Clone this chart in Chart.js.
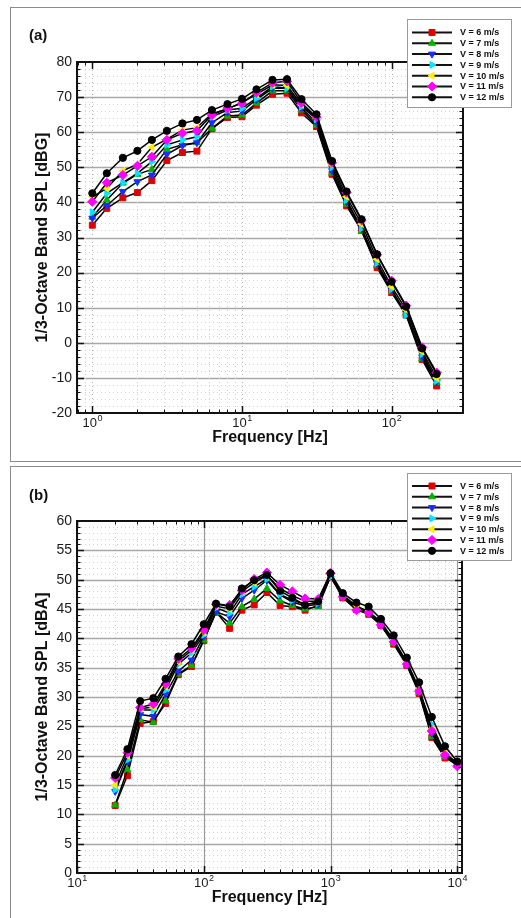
<!DOCTYPE html>
<html>
<head>
<title>1/3-Octave Band SPL</title>
<script src="https://cdn.jsdelivr.net/npm/chart.js"></script>
<style>
  body { margin: 0; background: #fff; width: 521px; height: 918px; overflow: hidden; position: relative;
         font-family: "Liberation Sans", Arial, sans-serif; }
  .panel { position: absolute; left: 10px; width: 600px; border: 1px solid #8a8a8a; }
  .tag { position: absolute; left: 29px; font-weight: bold; font-size: 15px; color: #111; line-height: 17px; }
  canvas { position: absolute; left: 0; }
</style>
</head>
<body>
<div class="panel" style="top:7px;height:453px"></div>
<div class="panel" style="top:466px;height:500px"></div>
<canvas id="chartA" width="521" height="462" style="top:0"></canvas>
<canvas id="chartB" width="521" height="456" style="top:462px"></canvas>
<div class="tag" style="top:26px">(a)</div>
<div class="tag" style="top:486px">(b)</div>

<script>
// ---- data ----
const speedLabels = ['V = 6 m/s', 'V = 7 m/s', 'V = 8 m/s', 'V = 9 m/s', 'V = 10 m/s', 'V = 11 m/s', 'V = 12 m/s'];

// (a) G-weighted, 1 Hz - 200 Hz
const freqA = [1, 1.25, 1.6, 2, 2.5, 3.15, 4, 5, 6.3, 8, 10, 12.5, 16, 20, 25, 31.5, 40, 50, 63, 80, 100, 125, 160, 200];
const splA_v6  = [33.5, 38.3, 41.3, 42.8, 46.2, 51.9, 54.2, 54.6, 61.0, 64.2, 64.4, 67.7, 70.8, 71.1, 65.5, 61.6, 48.0, 39.0, 32.0, 21.4, 14.3, 7.9, -4.8, -12.3];
const splA_v7  = [35.8, 40.7, 45.5, 48.0, 49.4, 55.1, 56.4, 57.0, 61.1, 64.6, 64.9, 68.3, 71.8, 71.8, 66.3, 62.0, 48.3, 39.5, 31.8, 22.0, 14.6, 8.5, -4.5, -11.3];
const splA_v8  = [35.5, 39.1, 43.1, 45.9, 47.8, 53.7, 56.2, 57.0, 62.7, 65.6, 66.0, 69.3, 72.5, 72.5, 66.8, 62.8, 49.0, 40.2, 32.5, 22.5, 15.0, 8.5, -4.0, -11.0];
const splA_v9  = [37.2, 42.6, 45.6, 48.3, 51.6, 56.4, 57.8, 58.7, 64.4, 66.3, 66.8, 69.7, 73.0, 72.5, 67.3, 63.7, 50.0, 40.7, 32.6, 22.8, 15.3, 7.9, -3.2, -10.8];
const splA_v10 = [41.6, 44.0, 49.0, 50.9, 55.7, 58.0, 60.6, 61.3, 65.3, 66.6, 68.5, 70.8, 73.5, 73.3, 67.8, 64.0, 50.7, 41.6, 33.8, 23.8, 16.0, 9.4, -2.5, -10.0];
const splA_v11 = [40.2, 45.6, 47.8, 50.4, 53.0, 57.8, 59.7, 60.4, 64.9, 66.8, 68.2, 71.3, 74.1, 74.5, 68.4, 64.3, 51.3, 42.8, 34.9, 25.1, 17.7, 10.6, -1.3, -8.5];
const splA_v12 = [42.6, 48.3, 52.7, 54.7, 57.8, 60.4, 62.5, 63.5, 66.3, 68.0, 69.5, 72.2, 74.9, 75.1, 69.4, 65.1, 51.8, 43.1, 35.2, 25.2, 17.4, 10.3, -1.6, -8.9];

// (b) A-weighted, 20 Hz - 10 kHz
const freqB = [20, 25, 31.5, 40, 50, 63, 80, 100, 125, 160, 200, 250, 315, 400, 500, 630, 800, 1000, 1250, 1600, 2000, 2500, 3150, 4000, 5000, 6300, 8000, 10000];
const splB_v6  = [11.5, 16.6, 25.5, 25.8, 28.9, 33.8, 35.2, 39.6, 44.5, 41.7, 44.8, 45.7, 47.8, 45.6, 45.4, 44.8, 45.6, 50.5, 46.9, 44.9, 44.1, 42.2, 39.0, 35.4, 30.6, 23.1, 19.6, 18.5];
const splB_v7  = [11.6, 17.6, 26.1, 25.7, 29.3, 33.9, 35.4, 39.7, 44.4, 42.6, 45.4, 46.7, 48.5, 46.4, 45.6, 45.0, 45.4, 50.6, 47.0, 45.0, 44.2, 42.3, 39.2, 35.5, 30.8, 23.3, 19.8, 18.6];
const splB_v8  = [13.9, 19.0, 27.0, 26.7, 30.5, 34.4, 36.3, 40.3, 44.5, 43.7, 46.8, 48.2, 49.9, 47.4, 46.2, 45.5, 45.8, 50.8, 47.2, 45.2, 44.5, 42.5, 39.4, 35.7, 31.0, 23.8, 20.0, 18.7];
const splB_v9  = [14.2, 19.3, 27.8, 27.8, 31.2, 35.6, 37.5, 40.6, 45.2, 44.3, 47.5, 48.8, 50.1, 47.5, 46.5, 45.8, 46.0, 50.5, 47.3, 45.3, 44.5, 42.6, 39.5, 35.8, 31.2, 25.3, 20.3, 18.8];
const splB_v10 = [15.0, 20.0, 28.0, 28.3, 31.8, 36.0, 38.0, 41.0, 45.5, 45.0, 48.0, 49.5, 50.7, 48.5, 47.3, 46.3, 46.3, 50.9, 47.4, 45.5, 44.6, 42.8, 39.7, 36.0, 31.5, 24.5, 20.5, 18.6];
const splB_v11 = [16.2, 20.5, 28.2, 28.8, 32.2, 36.5, 38.3, 41.4, 45.8, 45.7, 48.2, 50.1, 51.2, 49.1, 48.0, 46.8, 46.7, 51.1, 47.1, 44.8, 44.3, 42.3, 39.4, 35.6, 31.0, 24.2, 20.1, 18.2];
const splB_v12 = [16.7, 21.1, 29.3, 29.8, 33.1, 36.9, 39.0, 42.4, 45.9, 45.4, 48.5, 49.9, 50.8, 48.1, 46.9, 45.7, 46.3, 51.1, 47.7, 46.1, 45.4, 43.3, 40.5, 36.7, 32.5, 26.6, 21.6, 19.0];

// ---- marker styles, one per wind speed ----
const markerColors = ['#e00000', '#00b400', '#1a2cff', '#00e5ff', '#ffee00', '#ff00ff', '#000000'];
const markerShapes = ['rect', 'triangle', 'triangle', 'triangle', 'triangle', 'rectRot', 'circle'];
const markerTurns  = [0, 0, 180, 90, 270, 0, 0];
const markerSizes  = [4.2, 4, 4, 4, 4, 4.6, 3.6];

const FONT = '"Liberation Sans", Arial, Helvetica, sans-serif';

function makeDatasets(freqs, series) {
  return series.map((vals, i) => ({
    label: speedLabels[i],
    data: freqs.map((f, j) => ({ x: f, y: vals[j] })),
    borderColor: '#000',
    borderWidth: 1.5,
    pointStyle: markerShapes[i],
    pointRotation: markerTurns[i],
    pointRadius: markerSizes[i],
    pointBackgroundColor: markerColors[i],
    pointBorderColor: markerColors[i],
    pointBorderWidth: 1,
    tension: 0,
    order: series.length - i   // 12 m/s ends up on top
  }));
}

// 1,2,...,9 x 10^d inside [min,max]
function logSteps(min, max) {
  const out = [];
  for (let d = Math.floor(Math.log10(min)); d <= Math.ceil(Math.log10(max)); d++) {
    for (let k = 1; k <= 9; k++) {
      const v = k * Math.pow(10, d);
      if (v >= min * 0.999 && v <= max * 1.001) out.push({ v, d, major: k === 1 });
    }
  }
  return out;
}

function seg(ctx, x1, y1, x2, y2) {
  ctx.beginPath(); ctx.moveTo(x1, y1); ctx.lineTo(x2, y2); ctx.stroke();
}

// grid, frame, tick marks, decade labels and the boxed legend (Tecplot look)
const sheet = {
  id: 'sheet',
  beforeDatasetsDraw(chart, args, o) {
    const { ctx, chartArea: a, scales: { x, y } } = chart;
    ctx.save();
    ctx.lineWidth = 1;
    const n = Math.round((y.max - y.min) / o.yMinor);
    for (let k = 1; k < n; k++) {
      const v = y.min + k * o.yMinor;
      const py = Math.round(y.getPixelForValue(v)) + 0.5;
      if (Math.abs(v / o.yMajor - Math.round(v / o.yMajor)) < 1e-6) {
        ctx.setLineDash([]); ctx.strokeStyle = '#a8a8a8'; ctx.lineWidth = 1.6;
      } else {
        ctx.setLineDash([1, 3]); ctx.strokeStyle = '#d2d2d2'; ctx.lineWidth = 1;
      }
      seg(ctx, a.left, py, a.right, py);
    }
    logSteps(x.min, x.max).forEach(s => {
      const px = Math.round(x.getPixelForValue(s.v)) + 0.5;
      if (s.major && o.solidDecades) {
        ctx.setLineDash([]); ctx.strokeStyle = '#9a9a9a'; ctx.lineWidth = 1.2;
      } else {
        ctx.setLineDash([1, 3]); ctx.strokeStyle = s.major ? '#b0b0b0' : '#d0d0d0'; ctx.lineWidth = 1;
      }
      seg(ctx, px, a.top, px, a.bottom);
    });
    ctx.restore();
  },
  afterDatasetsDraw(chart, args, o) {
    const { ctx, chartArea: a, scales: { x, y } } = chart;
    ctx.save();
    ctx.strokeStyle = '#111';
    // inward tick marks on all four sides
    const n = Math.round((y.max - y.min) / o.yMinor);
    for (let k = 1; k < n; k++) {
      const v = y.min + k * o.yMinor;
      const py = Math.round(y.getPixelForValue(v)) + 0.5;
      const major = Math.abs(v / o.yMajor - Math.round(v / o.yMajor)) < 1e-6;
      const len = major ? 7 : 3.5;
      ctx.lineWidth = major ? 1.5 : 1;
      seg(ctx, a.left, py, a.left + len, py);
      seg(ctx, a.right, py, a.right - len, py);
    }
    logSteps(x.min, x.max).forEach(s => {
      const px = Math.round(x.getPixelForValue(s.v)) + 0.5;
      const len = s.major ? 7 : 3.5;
      ctx.lineWidth = s.major ? 1.5 : 1;
      seg(ctx, px, a.bottom, px, a.bottom - len);
      seg(ctx, px, a.top, px, a.top + len);
    });
    ctx.lineWidth = 2;
    ctx.strokeRect(a.left, a.top, a.right - a.left, a.bottom - a.top);

    // decade labels 10^d
    ctx.fillStyle = '#1a1a1a';
    ctx.textBaseline = 'alphabetic';
    logSteps(x.min, x.max).filter(s => s.major).forEach(s => {
      const px = x.getPixelForValue(s.v);
      const base = a.bottom + 14;
      ctx.font = '13px ' + FONT;
      const w1 = ctx.measureText('10').width;
      ctx.font = '9px ' + FONT;
      const w2 = ctx.measureText(String(s.d)).width;
      const left = px - (w1 + w2) / 2;
      ctx.textAlign = 'left';
      ctx.font = '13px ' + FONT;
      ctx.fillText('10', left, base);
      ctx.font = '9px ' + FONT;
      ctx.fillText(String(s.d), left + w1 + 0.5, base - 6);
    });

    // legend box
    const L = o.legend;
    ctx.fillStyle = '#fff';
    ctx.fillRect(L.left, L.top, L.width, L.height);
    ctx.lineWidth = 1;
    ctx.strokeStyle = '#9a9a9a';
    ctx.strokeRect(L.left + 0.5, L.top + 0.5, L.width, L.height);
    chart.data.datasets.forEach((ds, i) => {
      const cy = L.top + L.first + i * L.row;
      ctx.strokeStyle = '#111';
      ctx.lineWidth = 2;
      seg(ctx, L.left + 5, cy, L.left + 45, cy);
      ctx.fillStyle = ds.pointBackgroundColor;
      ctx.strokeStyle = ds.pointBorderColor;
      ctx.lineWidth = 1;
      Chart.helpers.drawPoint(ctx, {
        pointStyle: ds.pointStyle, rotation: ds.pointRotation,
        radius: ds.pointRadius, borderWidth: 1
      }, L.left + 25, cy);
      ctx.fillStyle = '#111';
      ctx.font = 'bold 9px ' + FONT;
      ctx.textAlign = 'left';
      ctx.textBaseline = 'middle';
      ctx.fillText(ds.label, L.left + 53, cy + 0.5);
    });
    ctx.restore();
  }
};

function buildChart(id, freqs, series, cfg) {
  return new Chart(document.getElementById(id), {
    type: 'line',
    data: { datasets: makeDatasets(freqs, series) },
    options: {
      responsive: false,
      animation: false,
      events: [],
      layout: { padding: { top: cfg.padTop, right: cfg.padRight, bottom: 0, left: 0 } },
      scales: {
        x: {
          type: 'logarithmic',
          min: cfg.xMin,
          max: cfg.xMax,
          grid: { display: false, drawTicks: false },
          border: { display: false },
          ticks: { display: false },
          title: {
            display: true,
            text: 'Frequency [Hz]',
            color: '#111',
            font: { family: FONT, size: 16, weight: 'bold' },
            padding: { top: 0, bottom: cfg.xTitlePad }
          },
          afterFit: s => { s.height = cfg.xHeight; }
        },
        y: {
          min: cfg.yMin,
          max: cfg.yMax,
          grid: { display: false, drawTicks: false },
          border: { display: false },
          ticks: {
            stepSize: cfg.yMajor,
            padding: 5,
            color: '#1a1a1a',
            font: { family: FONT, size: 14 }
          },
          title: {
            display: true,
            text: cfg.yTitle,
            color: '#111',
            font: { family: FONT, size: 16, weight: 'bold' },
            padding: { top: 33, bottom: 0 }
          },
          afterFit: s => { s.width = 77; }
        }
      },
      plugins: {
        legend: { display: false },
        tooltip: { enabled: false },
        sheet: {
          yMajor: cfg.yMajor,
          yMinor: cfg.yMinor,
          solidDecades: cfg.solidDecades,
          legend: cfg.legend
        }
      }
    },
    plugins: [sheet]
  });
}

buildChart('chartA', freqA,
  [splA_v6, splA_v7, splA_v8, splA_v9, splA_v10, splA_v11, splA_v12], {
    padTop: 62, padRight: 58, xHeight: 49, xTitlePad: 15,
    xMin: 0.79, xMax: 300, yMin: -20, yMax: 80, yMajor: 10, yMinor: 2,
    yTitle: '1/3-Octave Band SPL [dBG]', solidDecades: false,
    legend: { left: 407, top: 19, width: 104, height: 88, first: 13.5, row: 10.8 }
  });

buildChart('chartB', freqB,
  [splB_v6, splB_v7, splB_v8, splB_v9, splB_v10, splB_v11, splB_v12], {
    padTop: 59, padRight: 59, xHeight: 45, xTitlePad: 11,
    xMin: 10, xMax: 10900, yMin: 0, yMax: 60, yMajor: 5, yMinor: 1,
    yTitle: '1/3-Octave Band SPL [dBA]', solidDecades: true,
    legend: { left: 407, top: 11, width: 104, height: 87, first: 13, row: 10.8 }
  });
</script>
</body>
</html>
